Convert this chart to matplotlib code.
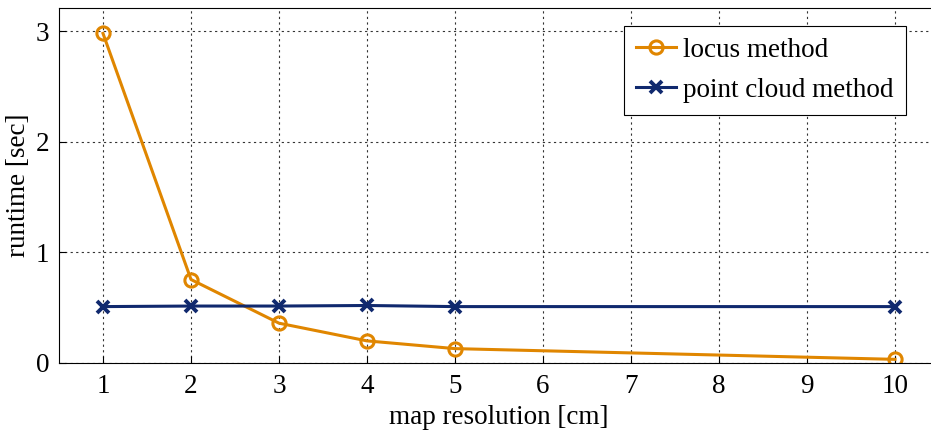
import matplotlib.pyplot as plt

plt.rcParams['font.family'] = ['Liberation Serif', 'DejaVu Serif']

res = [1, 2, 3, 4, 5, 10]
locus = [2.98, 0.755, 0.36, 0.20, 0.13, 0.033]
cloud = [0.51, 0.515, 0.515, 0.52, 0.51, 0.51]

orange = '#E08600'
navy = '#10296E'

fig = plt.figure(figsize=(9.31, 4.32), dpi=100)
ax = fig.add_axes([59/931, 69/432, 880/931, 355/432])

ax.plot(res, locus, color=orange, lw=2.2, marker='o', ms=9.5,
        mfc='none', mew=2.2, label='locus method')
ax.plot(res, cloud, color=navy, lw=2.2, marker='x', ms=9,
        mew=2.8, label='point cloud method')

ax.set_xlim(0.5, 10.5)
ax.set_ylim(0, 3.21)
ax.set_xticks(range(1, 11))
ax.set_yticks([0, 1, 2, 3])
ax.tick_params(direction='in', length=5, width=0.8, labelsize=19.5)
ax.tick_params(axis='x', pad=8)
ax.tick_params(axis='y', pad=7)
ax.grid(True, color='#333333', ls=(0, (2, 3)), lw=0.8)
ax.set_axisbelow(True)

ax.set_xlabel('map resolution [cm]', fontsize=19.5, labelpad=4)
ax.set_ylabel('runtime [sec]', fontsize=19.5, labelpad=3)

leg = ax.legend(loc='upper right', bbox_to_anchor=(0.9625, 0.95), fontsize=19.5,
                fancybox=False, framealpha=1, edgecolor='black',
                handlelength=1.45, handletextpad=0.28, borderpad=0.45,
                labelspacing=0.55, borderaxespad=0)
leg.get_frame().set_linewidth(0.8)

fig.savefig('out.png', dpi=100)
